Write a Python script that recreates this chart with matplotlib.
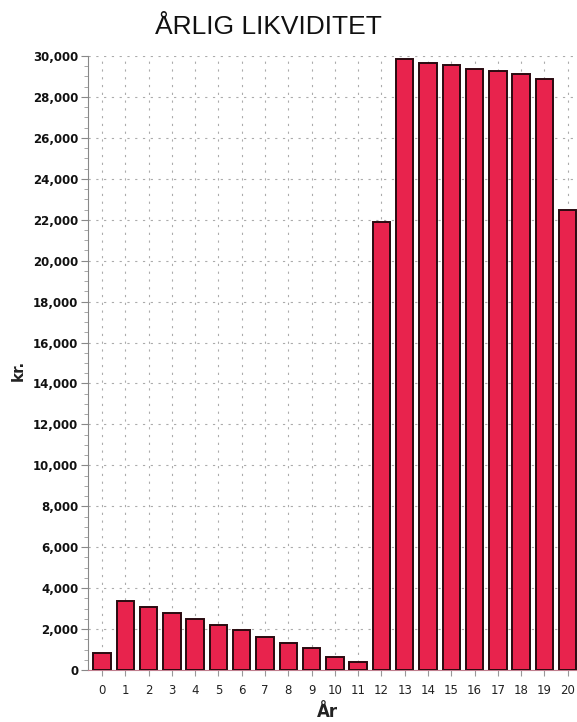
import matplotlib
matplotlib.use("Agg")
import matplotlib.pyplot as plt
import numpy as np
from matplotlib.ticker import FuncFormatter, MultipleLocator

years = list(range(21))
likviditet = [820, 3350, 3080, 2780, 2490, 2200, 1950, 1610, 1320, 1070, 640, 390,
              21900, 29850, 29650, 29550, 29370, 29280, 29100, 28900, 22500]
y_ticks = list(range(0, 30001, 2000))

fig = plt.figure(figsize=(5.77, 7.22), dpi=100)
ax = fig.add_axes([0.1525, 0.072, 0.8475, 0.8504])

ax.bar(years, likviditet, width=0.75, color="#e8234d", edgecolor="#2a0a10",
       linewidth=1.4, zorder=3)

ax.set_xlim(-0.6, 20.4)
ax.set_ylim(0, 30000)
ax.set_xticks(years)
ax.set_yticks(y_ticks)
ax.yaxis.set_minor_locator(MultipleLocator(500))
ax.yaxis.set_major_formatter(FuncFormatter(lambda v, p: "{:,}".format(int(v))))

ax.grid(True, color="#ababab", linestyle=(0, (2, 5)), linewidth=0.8, zorder=0)
for s in ["top", "right"]:
    ax.spines[s].set_visible(False)
ax.spines["left"].set_color("#888888")
ax.spines["bottom"].set_color("#c08090")
ax.tick_params(axis="y", labelsize=8.5, colors="#888888", labelcolor="#111111",
               length=5, pad=2)
ax.tick_params(axis="y", which="minor", length=3, colors="#999999")
ax.tick_params(axis="x", labelsize=8.5, colors="#999999", labelcolor="#222222",
               length=4, pad=6)
for lab in ax.get_yticklabels():
    lab.set_fontweight("bold")

fig.text(0.465, 0.962, "ÅRLIG LIKVIDITET", ha="center", va="center",
         fontsize=19, color="#111111", family="Liberation Sans")
fig.text(0.032, 0.487, "kr.", rotation=90, ha="center", va="center",
         fontsize=11, fontweight="bold", color="#222222")
fig.text(0.567, 0.014, "År", ha="center", va="center",
         fontsize=12, fontweight="bold", color="#222222")

fig.savefig("out.png", dpi=100)
